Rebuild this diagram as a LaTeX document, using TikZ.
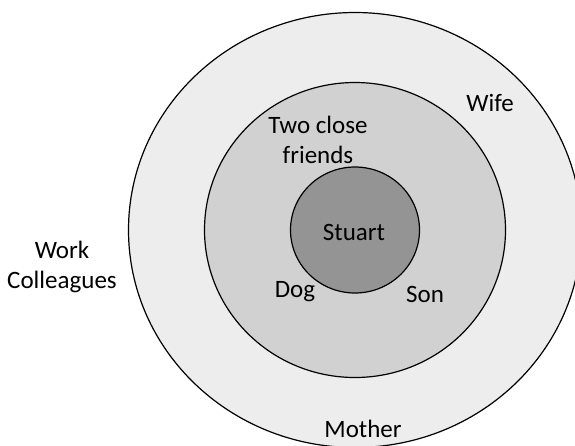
\documentclass[tikz,border=0pt]{standalone}
\usepackage{fontspec}
\setmainfont{Carlito}
\usepackage{tikz}
\tikzset{ring/.style={line width=1.2pt, draw=black}, lbl/.style={align=center, inner sep=0pt, font=\fontsize{25}{30}\selectfont}}

\begin{document}
\begin{tikzpicture}[x=1pt, y=-1pt]
		%%%%% START %%%%%
		
		\useasboundingbox[fill=white] (0, 0) rectangle (575, 445);
		
		\draw[ring, fill=black!7] (355, 230) ellipse (226.5 and 217.5);
		\draw[ring, fill=black!18] (355, 230) ellipse (150.5 and 147.5);
		\draw[ring, fill=black!42] (355, 230) ellipse (64.5 and 63);
		
		\node[lbl] (stuart) at (354, 232) {Stuart};
		\node[lbl] (friends) at (318, 140) {Two close\\friends};
		\node[lbl] (dog) at (295, 292) {Dog};
		\node[lbl] (son) at (425, 294) {Son};
		\node[lbl] (wife) at (490, 103) {Wife};
		\node[lbl] (mother) at (363, 429) {Mother};
		\node[lbl] (work) at (62, 267) {Work\\Colleagues};
		
		%%%%% END %%%%%
	\end{tikzpicture}
\end{document}
